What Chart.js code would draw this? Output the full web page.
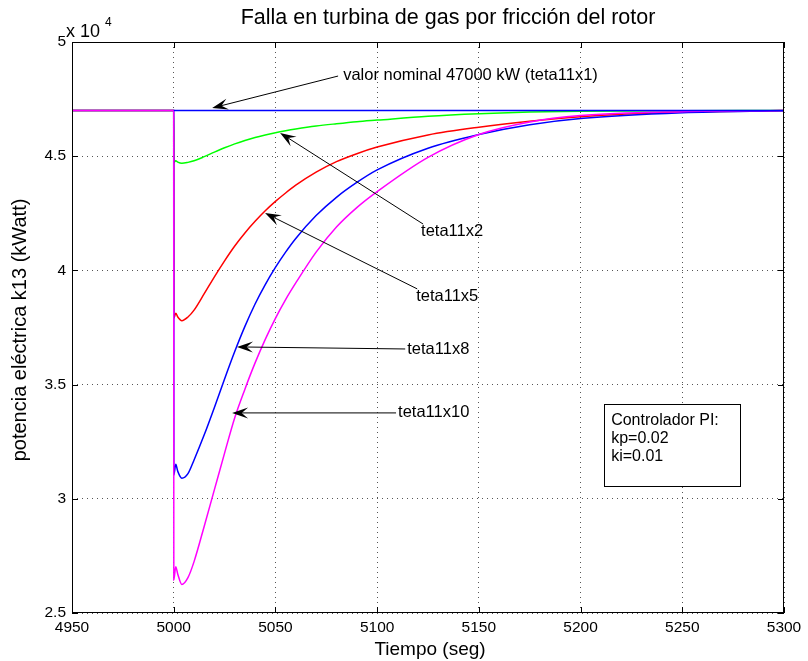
<!DOCTYPE html>
<html>
<head>
<meta charset="utf-8">
<script src="https://cdn.jsdelivr.net/npm/chart.js@4.4.0/dist/chart.umd.min.js"></script>
<style>
  html, body { margin: 0; padding: 0; background: #fff; }
  #wrap { width: 808px; height: 661px; }
</style>
</head>
<body>
<div id="wrap"><canvas id="c" width="808" height="661"></canvas></div>
<script>
// tiempo (seg) - same sample instants for every curve
const tiempo = [4950, 5000, 5000.05, 5001, 5002, 5004, 5007, 5010, 5015, 5020, 5025, 5030, 5035, 5040, 5045, 5050, 5055, 5060, 5070, 5080, 5090, 5100, 5125, 5150, 5175, 5200, 5250, 5300];

// potencia electrica k13 (kW)
const teta11x1  = [null, 47000, 47000, 47000, 47000, 47000, 47000, 47000, 47000, 47000, 47000, 47000, 47000, 47000, 47000, 47000, 47000, 47000, 47000, 47000, 47000, 47000, 47000, 47000, 47000, 47000, 47000, 47000];
const teta11x2  = [47000, 47000, 44720, 44800, 44740, 44690, 44730, 44800, 44980, 45180, 45370, 45540, 45690, 45820, 45930, 46030, 46115, 46190, 46320, 46420, 46510, 46580, 46750, 46860, 46930, 46965, 46995, 47000];
const teta11x5  = [47000, 47000, 37900, 38120, 37960, 37800, 37960, 38260, 38980, 39720, 40420, 41070, 41640, 42150, 42610, 43020, 43390, 43730, 44300, 44760, 45110, 45400, 45930, 46270, 46530, 46730, 46930, 47000];
const teta11x8  = [47000, 47000, 31040, 31510, 31200, 30900, 31100, 31700, 32800, 34000, 35250, 36450, 37550, 38530, 39380, 40130, 40800, 41400, 42400, 43200, 43850, 44400, 45350, 45950, 46380, 46650, 46900, 46990];
const teta11x10 = [47000, 47000, 26450, 27030, 26700, 26250, 26550, 27250, 28800, 30400, 32000, 33550, 34800, 35950, 36980, 37900, 38720, 39450, 40800, 41900, 42750, 43450, 44950, 45950, 46500, 46780, 46950, 47000];

const xTicks = [4950, 5000, 5050, 5100, 5150, 5200, 5250, 5300];
const yTicks = [25000, 30000, 35000, 40000, 45000, 50000];

const titulo = 'Falla en turbina de gas por fricción del rotor';
const xLabel = 'Tiempo (seg)';
const yLabel = 'potencia eléctrica k13 (kWatt)';
const cuadro = ['Controlador PI:', 'kp=0.02', 'ki=0.01'];

// arrow annotations: text anchor and arrow tip, in axis units
const flechas = [
  { text: 'valor nominal 47000 kW (teta11x1)', tx: 5083.3, ty: 48550, from: [5080.8, 48510], to: [5018.9, 47110] },
  { text: 'teta11x2',  tx: 5121.6, ty: 41720, from: [5122.6, 42030], to: [5052.3, 46020] },
  { text: 'teta11x5',  tx: 5119.2, ty: 38880, from: [5119.7, 39190], to: [5044.9, 42510] },
  { text: 'teta11x8',  tx: 5114.8, ty: 36560, from: [5113.8, 36560], to: [5031.1, 36650] },
  { text: 'teta11x10', tx: 5110.3, ty: 33760, from: [5109.3, 33760], to: [5028.7, 33760] }
];

const FONT = '"Liberation Sans", Arial, Helvetica, sans-serif';

function serie(vals, color) {
  return {
    data: tiempo.map((t, i) => ({ x: t, y: vals[i] })),
    borderColor: color,
    backgroundColor: color,
    borderWidth: 1.5,
    pointRadius: 0,
    cubicInterpolationMode: 'monotone',
    spanGaps: false,
    fill: false
  };
}

function arrow(ctx, x0, y0, x1, y1) {
  const ang = Math.atan2(y1 - y0, x1 - x0);
  const L = 16, W = 5.5;
  ctx.beginPath();
  ctx.moveTo(x0, y0);
  ctx.lineTo(x1 - Math.cos(ang) * 8, y1 - Math.sin(ang) * 8);
  ctx.stroke();
  const bx = x1 - Math.cos(ang) * L, by = y1 - Math.sin(ang) * L;
  const nx = x1 - Math.cos(ang) * L * 0.6, ny = y1 - Math.sin(ang) * L * 0.6;
  ctx.beginPath();
  ctx.moveTo(x1, y1);
  ctx.lineTo(bx - Math.sin(ang) * W, by + Math.cos(ang) * W);
  ctx.lineTo(nx, ny);
  ctx.lineTo(bx + Math.sin(ang) * W, by - Math.cos(ang) * W);
  ctx.closePath();
  ctx.fill();
}

const decoraciones = {
  id: 'decoraciones',
  afterDraw(chart) {
    const { ctx, chartArea: a, scales: { x, y } } = chart;
    ctx.save();
    ctx.strokeStyle = '#000';
    ctx.fillStyle = '#000';
    ctx.lineWidth = 1;

    // caja de ejes y marcas interiores
    ctx.strokeRect(Math.round(a.left) + 0.5, Math.round(a.top) + 0.5,
                   Math.round(a.right - a.left) - 1, Math.round(a.bottom - a.top) - 1);
    ctx.beginPath();
    x.ticks.forEach(tk => {
      const px = Math.round(x.getPixelForValue(tk.value)) + 0.5;
      ctx.moveTo(px, a.bottom); ctx.lineTo(px, a.bottom - 6);
      ctx.moveTo(px, a.top); ctx.lineTo(px, a.top + 6);
    });
    y.ticks.forEach(tk => {
      const py = Math.round(y.getPixelForValue(tk.value)) + 0.5;
      ctx.moveTo(a.left, py); ctx.lineTo(a.left + 6, py);
      ctx.moveTo(a.right, py); ctx.lineTo(a.right - 6, py);
    });
    ctx.stroke();

    // titulo y etiquetas
    ctx.textAlign = 'center';
    ctx.textBaseline = 'middle';
    ctx.font = '21.5px ' + FONT;
    ctx.fillText(titulo, 448, 18);
    ctx.font = '19px ' + FONT;
    ctx.fillText(xLabel, 430, 650);
    ctx.save();
    ctx.translate(20, 330);
    ctx.rotate(-Math.PI / 2);
    ctx.font = '20px ' + FONT;
    ctx.fillText(yLabel, 0, 0);
    ctx.restore();

    // factor de escala
    ctx.textAlign = 'left';
    ctx.textBaseline = 'alphabetic';
    ctx.font = '18px ' + FONT;
    ctx.fillText('x 10', 66, 37);
    ctx.font = '12px ' + FONT;
    ctx.fillText('4', 105, 26);

    // flechas
    ctx.font = '16.5px ' + FONT;
    ctx.textBaseline = 'middle';
    flechas.forEach(f => {
      arrow(ctx, x.getPixelForValue(f.from[0]), y.getPixelForValue(f.from[1]),
                 x.getPixelForValue(f.to[0]), y.getPixelForValue(f.to[1]));
      ctx.fillText(f.text, x.getPixelForValue(f.tx), y.getPixelForValue(f.ty));
    });

    // cuadro del controlador
    const bx0 = x.getPixelForValue(5211.6), by0 = y.getPixelForValue(34150);
    const bx1 = x.getPixelForValue(5278.5), by1 = y.getPixelForValue(30560);
    ctx.fillStyle = '#fff';
    ctx.fillRect(bx0, by0, bx1 - bx0, by1 - by0);
    ctx.strokeRect(Math.round(bx0) + 0.5, Math.round(by0) + 0.5, Math.round(bx1 - bx0), Math.round(by1 - by0));
    ctx.fillStyle = '#000';
    ctx.font = '16px ' + FONT;
    cuadro.forEach((s, i) => ctx.fillText(s, bx0 + 7, by0 + 17 + i * 18));
    ctx.restore();
  }
};

new Chart(document.getElementById('c'), {
  type: 'line',
  data: {
    datasets: [
      serie(teta11x1, '#0000ff'),
      serie(teta11x10, '#ff00ff'),
      serie(teta11x8, '#0000ff'),
      serie(teta11x5, '#ff0000'),
      serie(teta11x2, '#00ff00')
    ]
  },
  options: {
    responsive: false,
    animation: false,
    layout: { padding: { top: 42, right: 24, left: 0, bottom: 0 } },
    plugins: {
      legend: { display: false },
      tooltip: { enabled: false }
    },
    scales: {
      x: {
        type: 'linear',
        min: 4950,
        max: 5300,
        afterFit: s => { s.height = 48; },
        afterBuildTicks: s => { s.ticks = xTicks.map(v => ({ value: v })); },
        ticks: { color: '#000', padding: 5, font: { family: FONT, size: 15.5 },
                 callback: v => String(v) },
        grid: { color: '#555', lineWidth: 1, drawTicks: false },
        border: { display: false, dash: [1, 4] }
      },
      y: {
        type: 'linear',
        min: 25000,
        max: 50000,
        afterFit: s => { s.width = 72; },
        afterBuildTicks: s => { s.ticks = yTicks.map(v => ({ value: v })); },
        ticks: { color: '#000', padding: 6, font: { family: FONT, size: 15.5 },
                 callback: v => String(v / 10000) },
        grid: { color: '#555', lineWidth: 1, drawTicks: false },
        border: { display: false, dash: [1, 4] }
      }
    }
  },
  plugins: [decoraciones]
});
</script>
</body>
</html>
